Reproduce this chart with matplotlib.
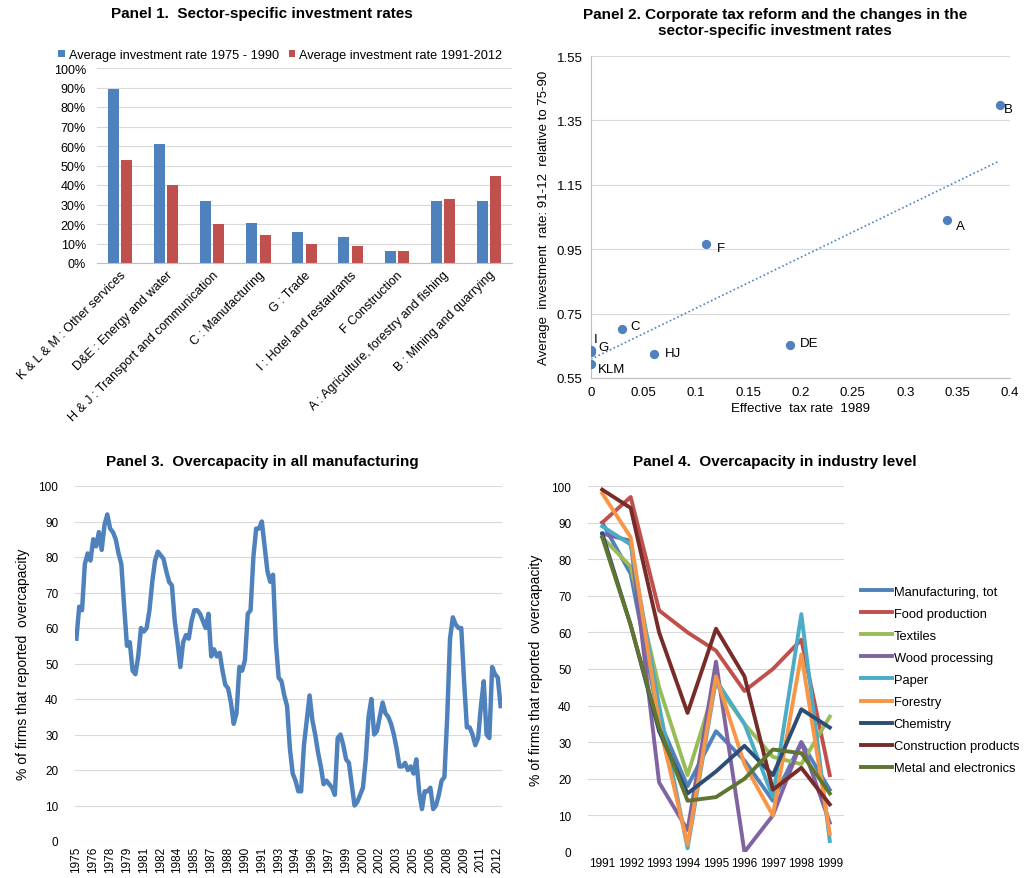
import matplotlib
matplotlib.use('Agg')
import matplotlib.pyplot as plt
import numpy as np

plt.rcParams['font.family'] = ['Liberation Sans', 'DejaVu Sans']

# ---- Panel 1 data ----
sectors = ['K & L & M : Other services', 'D&E : Energy and water',
           'H & J : Transport and communication', 'C : Manufacturing',
           'G : Trade', 'I : Hotel and restaurants', 'F Construction',
           'A : Agriculture, forestry and fishing', 'B : Mining and quarrying']
rate_75_90 = [89, 61, 32, 20.5, 16, 13.5, 6, 32, 32]
rate_91_12 = [53, 40, 20, 14.5, 10, 8.5, 6, 33, 44.5]

# ---- Panel 2 data ----
p2_labels = ['KLM', 'I', 'G', 'C', 'HJ', 'F', 'DE', 'A', 'B']
tax_1989 = [0.0, 0.0, 0.0, 0.03, 0.06, 0.11, 0.19, 0.34, 0.39]
inv_ratio = [0.594, 0.636, 0.632, 0.703, 0.623, 0.966, 0.654, 1.040, 1.397]

# ---- Panel 3 data (quarterly 1975Q1 - 2012Q4) ----
p3_start_year = 1975
overcap_all = [57, 66, 65, 78, 81, 79, 85, 83, 87, 82,
               89, 92, 88, 87, 85, 81, 78, 66, 55, 56,
               48, 47, 52, 60, 59, 60, 65, 73, 79, 81.5,
               80.5, 79.5, 76, 73, 72, 62, 56, 49, 56, 58,
               57, 62, 65, 65, 64, 62, 60, 64, 52, 54,
               52, 53, 48, 44, 43, 39, 33, 36, 49, 48,
               51, 64, 65, 80, 88, 88, 90, 83, 76, 73,
               75, 56, 46, 45, 41, 38, 26, 19, 17, 14,
               14, 27, 34, 41, 34, 30, 25, 21, 16, 17,
               16, 15, 13, 29, 30, 27, 23, 22, 16, 10,
               11, 13, 15, 23, 35, 40, 30, 31, 35, 39,
               36, 35, 33, 30, 26, 21, 21, 22, 20, 21,
               19, 23, 14, 9, 14, 14, 15, 9, 10, 13,
               17, 18, 35, 57, 63, 61, 60, 60, 45, 32,
               32, 30, 27, 29, 38, 45, 30, 29, 49, 47,
               46, 38]

# ---- Panel 4 data ----
p4_years = ['1991', '1992', '1993', '1994', '1995', '1996', '1997', '1998', '1999']
manufacturing_tot = [90, 76, 36, 18, 33, 25, 14, 30, 17]
food_production = [90, 97, 66, 60, 55, 44, 50, 58, 21]
textiles = [86, 78, 45, 21, 46, 35, 26, 24, 37]
wood_processing = [87, 85, 19, 6, 52, 0, 10, 30, 8]
paper = [89, 84, 40, 1, 47, 35, 15, 65, 3]
forestry = [98, 86, 35, 2, 48, 24, 10, 54, 5]
chemistry = [87, 62, 33, 16, 22, 29, 21, 39, 34]
construction_products = [99, 94, 60, 38, 61, 48, 17, 23, 13]
metal_electronics = [86, 62, 34, 14, 15, 20, 28, 27, 16]

BLUE = '#4F81BD'
RED = '#C0504D'
GRID = '#D9D9D9'

fig = plt.figure(figsize=(10.24, 8.79), dpi=100)
W, H = 1024, 879

def box(l, t, r, b):
    return [l / W, 1 - b / H, (r - l) / W, (b - t) / H]

def clean(ax):
    for s in ['top', 'right', 'left']:
        ax.spines[s].set_visible(False)
    ax.spines['bottom'].set_color('#BFBFBF')
    ax.tick_params(length=0, colors='black')
    ax.grid(axis='y', color=GRID, lw=0.8)
    ax.set_axisbelow(True)

# ---------------- Panel 1 ----------------
ax1 = fig.add_axes(box(97, 69, 512, 264))
x = np.arange(len(sectors))
ax1.bar(x - 0.145, rate_75_90, 0.24, color=BLUE, label='Average investment rate 1975 - 1990')
ax1.bar(x + 0.145, rate_91_12, 0.24, color=RED, label='Average investment rate 1991-2012')
ax1.set_xlim(-0.5, len(sectors) - 0.5)
ax1.set_ylim(0, 100)
ax1.set_yticks(range(0, 101, 10))
ax1.set_yticklabels(['%d%%' % v for v in range(0, 101, 10)], fontsize=9)
ax1.set_xticks(x)
ax1.set_xticklabels(sectors, rotation=45, ha='right', rotation_mode='anchor', fontsize=9)
ax1.tick_params(axis='x', pad=4)
ax1.tick_params(axis='y', pad=8)
clean(ax1)
ax1.legend(loc='lower left', bbox_to_anchor=(-0.11, 1.0), ncol=2, frameon=False,
           fontsize=9.2, handlelength=0.5, handleheight=0.5, handletextpad=0.3,
           columnspacing=0.8, borderaxespad=0.15)
fig.text(262 / W, 1 - 14 / H, 'Panel 1.  Sector-specific investment rates',
         ha='center', va='center', fontsize=11, weight='bold')

# ---------------- Panel 2 ----------------
ax2 = fig.add_axes(box(591, 57, 1010, 379))
ax2.scatter(tax_1989, inv_ratio, s=32, color=BLUE, zorder=3)
k, c0 = np.polyfit(tax_1989, inv_ratio, 1)
xs = np.array([0, max(tax_1989)])
ax2.plot(xs, k * xs + c0, ls=(0, (1, 1.5)), color=BLUE, lw=1.2)
offsets = {'KLM': (5, -4), 'I': (2, 8), 'G': (5, 3), 'C': (6, 2), 'HJ': (8, 1),
           'F': (8, -3), 'DE': (7, 1), 'A': (6, -4), 'B': (3, -3)}
for lab, xv, yv in zip(p2_labels, tax_1989, inv_ratio):
    ax2.annotate(lab, (xv, yv), xytext=offsets[lab], textcoords='offset points',
                 fontsize=9.5, va='center', ha='left')
ax2.set_xlim(0, 0.4)
ax2.set_ylim(0.55, 1.55)
ax2.set_xticks(np.arange(0, 0.401, 0.05))
ax2.set_xticklabels(['0', '0.05', '0.1', '0.15', '0.2', '0.25', '0.3', '0.35', '0.4'], fontsize=9.5)
ax2.set_yticks([0.55, 0.75, 0.95, 1.15, 1.35, 1.55])
ax2.set_yticklabels(['0.55', '0.75', '0.95', '1.15', '1.35', '1.55'], fontsize=9.5)
clean(ax2)
ax2.spines['left'].set_visible(True)
ax2.spines['left'].set_color('#BFBFBF')
ax2.tick_params(axis='x', pad=6)
ax2.tick_params(axis='y', pad=6)
ax2.set_xlabel('Effective  tax rate  1989', fontsize=9.5, labelpad=3)
ax2.set_ylabel('Average  investment  rate: 91-12  relative to 75-90', fontsize=9.5, labelpad=5)
fig.text(775 / W, 1 - 23 / H,
         'Panel 2. Corporate tax reform and the changes in the\nsector-specific investment rates',
         ha='center', va='center', fontsize=11, weight='bold', linespacing=1.1)

# ---------------- Panel 3 ----------------
ax3 = fig.add_axes(box(75, 487, 502, 842))
q = np.arange(len(overcap_all))
ax3.plot(q, overcap_all, color=BLUE, lw=3.2, solid_joinstyle='round')
ax3.set_xlim(-0.5, len(overcap_all) - 0.5)
ax3.set_ylim(0, 100)
ax3.set_yticks(range(0, 101, 10))
ax3.tick_params(axis='y', labelsize=8.5, pad=12)
tick_pos = q[::6]
ax3.set_xticks(tick_pos)
ax3.set_xticklabels([str(p3_start_year + i // 4) for i in tick_pos], rotation=90, fontsize=8.5)
clean(ax3)
ax3.spines['bottom'].set_visible(False)
ax3.set_ylabel('% of firms that reported  overcapacity', fontsize=10, labelpad=6)
fig.text(262 / W, 1 - 462 / H, 'Panel 3.  Overcapacity in all manufacturing',
         ha='center', va='center', fontsize=11, weight='bold')

# ---------------- Panel 4 ----------------
ax4 = fig.add_axes(box(588, 487, 844, 853))
series = [
    ('Manufacturing, tot', manufacturing_tot, '#4F81BD'),
    ('Food production', food_production, '#C0504D'),
    ('Textiles', textiles, '#9BBB59'),
    ('Wood processing', wood_processing, '#8064A2'),
    ('Paper', paper, '#4BACC6'),
    ('Forestry', forestry, '#F79646'),
    ('Chemistry', chemistry, '#2C4D75'),
    ('Construction products', construction_products, '#772C2A'),
    ('Metal and electronics', metal_electronics, '#5F7530'),
]
xi = np.arange(len(p4_years))
for name, vals, col in series:
    ax4.plot(xi, vals, color=col, lw=2.8, label=name)
ax4.set_xlim(-0.5, len(p4_years) - 0.5)
ax4.set_ylim(0, 100)
ax4.set_yticks(range(0, 101, 10))
ax4.tick_params(axis='y', labelsize=8.5, pad=12)
ax4.set_xticks(xi)
ax4.set_xticklabels(p4_years, fontsize=8.5)
clean(ax4)
ax4.spines['bottom'].set_visible(False)
ax4.set_ylabel('% of firms that reported  overcapacity', fontsize=10, labelpad=6)
ax4.legend(loc='center left', bbox_to_anchor=(1.02, 0.47), frameon=False, fontsize=9.3,
           handlelength=2.4, handletextpad=0.15, labelspacing=0.78)
fig.text(775 / W, 1 - 462 / H, 'Panel 4.  Overcapacity in industry level',
         ha='center', va='center', fontsize=11, weight='bold')

fig.savefig('out.png', dpi=100, facecolor='white')
